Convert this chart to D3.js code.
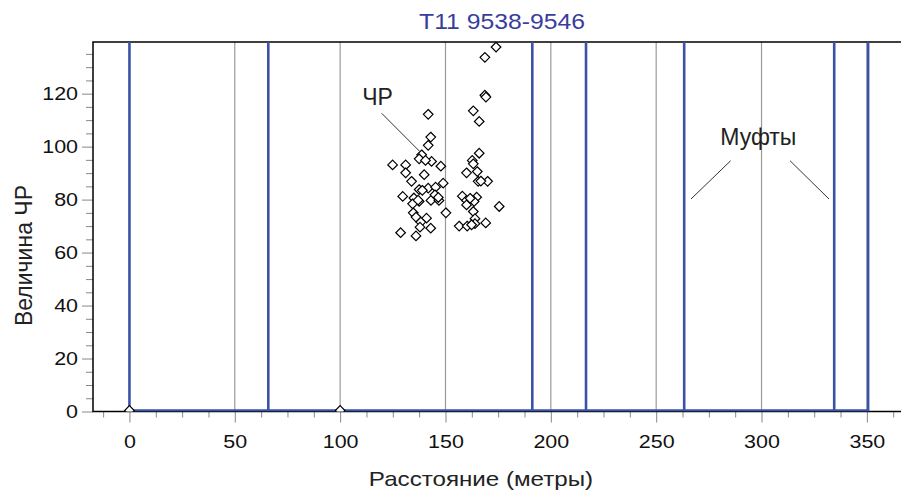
<!DOCTYPE html>
<html>
<head>
<meta charset="utf-8">
<script src="https://cdn.jsdelivr.net/npm/d3@7"></script>
<style>
  body { margin: 0; background: #fff; }
  svg text { font-family: "Liberation Sans", Arial, sans-serif; }
</style>
</head>
<body>
<div id="chart"></div>
<script>
// couplings (Муфты), metres along the line
const couplings = [0, 65.9, 191.2, 216.7, 263.3, 334.5, 350.6];
// PD points (ЧР): distance, magnitude
const pdDist = [
  0, 100,
  141.8, 143.0, 141.8, 138.7, 137.5, 143.4, 140.5, 147.8, 124.9, 131.1, 131.1, 139.9,
  133.9, 148.9, 137.5, 141.8, 145.3, 129.7, 135.0, 137.5, 143.1, 146.9, 145.0, 146.6,
  134.4, 150.2, 134.7, 136.0, 141.0, 138.3, 137.9, 143.0, 128.7, 136.0, 139.0, 137.0,
  174.0, 168.7, 168.7, 169.2, 163.2, 166.0, 166.0, 162.7, 163.2, 160.0, 165.1, 165.5,
  170.0, 166.8, 158.0, 160.0, 164.8, 163.6, 160.0, 175.5, 163.2, 164.0, 164.0, 169.1,
  156.5, 160.3, 162.4, 161.7
];
const pdValue = [
  0, 0,
  112.2, 103.6, 100.5, 96.9, 95.4, 94.4, 94.8, 92.6, 93.1, 93.1, 90.1, 89.4,
  86.9, 86.2, 83.8, 84.3, 84.7, 81.2, 80.6, 79.3, 79.7, 79.7, 81.8, 80.8,
  78.4, 75.0, 75.0, 73.4, 73.0, 71.5, 69.6, 69.2, 67.5, 66.3, 83.5, 79.8,
  137.6, 133.7, 119.4, 118.7, 113.5, 109.5, 97.5, 94.8, 93.5, 90.1, 90.6, 86.9,
  86.9, 87.0, 81.3, 79.7, 80.9, 79.3, 78.0, 77.4, 75.5, 72.8, 70.9, 71.2,
  70.0, 70.0, 70.5, 80.5
];
const xTicks = [0, 50, 100, 150, 200, 250, 300, 350];
const yTicks = [0, 20, 40, 60, 80, 100, 120];

const width = 901, height = 490;
const plot = {left: 93, right: 901, top: 42, bottom: 411.5};

const svg = d3.select('#chart').append('svg')
    .attr('width', width)
    .attr('height', height);

const x = d3.scaleLinear().domain([-17.3, 366.2]).range([plot.left, plot.right]);
const y = d3.scaleLinear().domain([0, 139.5]).range([plot.bottom, plot.top]);

// the original labels are a bit wider than Liberation Sans
function widen(sel, k) {
    sel.each(function() {
        const w = this.getComputedTextLength();
        d3.select(this).attr('textLength', w * k).attr('lengthAdjust', 'spacingAndGlyphs');
    });
}

svg.append('clipPath').attr('id', 'plotclip')
  .append('rect')
    .attr('x', plot.left).attr('y', plot.top)
    .attr('width', plot.right - plot.left).attr('height', plot.bottom - plot.top);

// grid lines
svg.append('g')
  .selectAll('line')
  .data(xTicks.filter(d => d > 0))
  .enter().append('line')
    .attr('x1', d => x(d)).attr('x2', d => x(d))
    .attr('y1', plot.top).attr('y2', plot.bottom)
    .style('stroke', '#9a9a9a')
    .style('stroke-width', 1.2);

// x axis (major + minor ticks)
const xMinor = d3.range(-12.5, 366, 12.5).filter(d => d % 50 !== 0);
svg.append('g')
    .attr('transform', 'translate(0,' + plot.bottom + ')')
    .call(d3.axisBottom(x).tickValues(xMinor).tickSize(6).tickFormat(''))
    .call(g => g.select('.domain').remove())
    .call(g => g.selectAll('line').style('stroke', '#888'));

svg.append('g')
    .attr('transform', 'translate(0,' + plot.bottom + ')')
    .call(d3.axisBottom(x).tickValues(xTicks).tickSize(11).tickPadding(12))
    .call(g => g.select('.domain').remove())
    .call(g => g.selectAll('line').style('stroke', '#888'))
    .call(g => g.selectAll('text').attr('font-size', 19).attr('font-family', null).style('fill', '#111'))
    .call(g => widen(g.selectAll('text'), 1.13));

// y axis
const yMinor = d3.range(5, 139, 5).filter(d => d % 20 !== 0);
svg.append('g')
    .attr('transform', 'translate(' + plot.left + ',0)')
    .call(d3.axisLeft(y).tickValues(yMinor).tickSize(7).tickFormat(''))
    .call(g => g.select('.domain').remove())
    .call(g => g.selectAll('line').style('stroke', '#888'));

svg.append('g')
    .attr('transform', 'translate(' + plot.left + ',0)')
    .call(d3.axisLeft(y).tickValues(yTicks).tickSize(11).tickPadding(4))
    .call(g => g.select('.domain').remove())
    .call(g => g.selectAll('line').style('stroke', '#888'))
    .call(g => g.selectAll('text').attr('font-size', 19).attr('font-family', null).style('fill', '#111'))
    .call(g => widen(g.selectAll('text'), 1.13));

// frame: left, top, bottom
svg.append('path')
    .attr('d', 'M' + plot.right + ',' + plot.top + 'H' + plot.left + 'V' + plot.bottom + 'H' + plot.right)
    .style('fill', 'none')
    .style('stroke', '#000')
    .style('stroke-width', 1.5);

// coupling series: zero baseline with full-height spikes
const stepPts = [];
couplings.forEach(c => {
    stepPts.push([c, 0]);
    stepPts.push([c, 139.5]);
    stepPts.push([c, 0]);
});
const line = d3.line().x(d => x(d[0])).y(d => y(d[1]) - 1);
svg.append('path')
    .datum(stepPts)
    .attr('clip-path', 'url(#plotclip)')
    .attr('d', line)
    .style('fill', 'none')
    .style('stroke', '#3b53a6')
    .style('stroke-width', 2.6);

// PD diamonds
const pts = pdDist.map((d, i) => ({dist: d, val: pdValue[i]}));
svg.append('g')
    .attr('clip-path', 'url(#plotclip)')
  .selectAll('path')
  .data(pts)
  .enter().append('path')
    .attr('d', 'M0,-4.8L4.8,0L0,4.8L-4.8,0Z')
    .attr('transform', d => 'translate(' + x(d.dist) + ',' + (y(d.val) - (d.val === 0 ? 1 : 0)) + ')')
    .style('fill', '#fff')
    .style('stroke', '#000')
    .style('stroke-width', 1.2);

// annotations
svg.append('text')
    .attr('x', 377.5).attr('y', 105)
    .attr('text-anchor', 'middle')
    .style('font-size', '23px').style('fill', '#222')
    .text('ЧР');
svg.append('line')
    .attr('x1', 381.7).attr('y1', 113.3).attr('x2', 420).attr('y2', 151.7)
    .style('stroke', '#333').style('stroke-width', 1);

svg.append('text')
    .attr('x', 758.3).attr('y', 145)
    .attr('text-anchor', 'middle')
    .style('font-size', '23px').style('fill', '#222')
    .text('Муфты');
svg.append('line')
    .attr('x1', 730.7).attr('y1', 160.7).attr('x2', 691).attr('y2', 199)
    .style('stroke', '#333').style('stroke-width', 1);
svg.append('line')
    .attr('x1', 790).attr('y1', 160.7).attr('x2', 829).attr('y2', 199)
    .style('stroke', '#333').style('stroke-width', 1);

// titles
svg.append('text')
    .attr('x', 502).attr('y', 29.3)
    .attr('text-anchor', 'middle')
    .style('font-size', '21.5px').style('fill', '#3a3d9c')
    .text('T11 9538-9546')
    .call(t => widen(t, 1.15));

svg.append('text')
    .attr('x', 481).attr('y', 486)
    .attr('text-anchor', 'middle')
    .style('font-size', '21px').style('fill', '#222')
    .text('Расстояние (метры)')
    .call(t => widen(t, 1.15));

svg.append('text')
    .attr('transform', 'translate(32,255.5) rotate(-90)')
    .attr('text-anchor', 'middle')
    .style('font-size', '23px').style('fill', '#222')
    .text('Величина ЧР');
</script>
</body>
</html>
